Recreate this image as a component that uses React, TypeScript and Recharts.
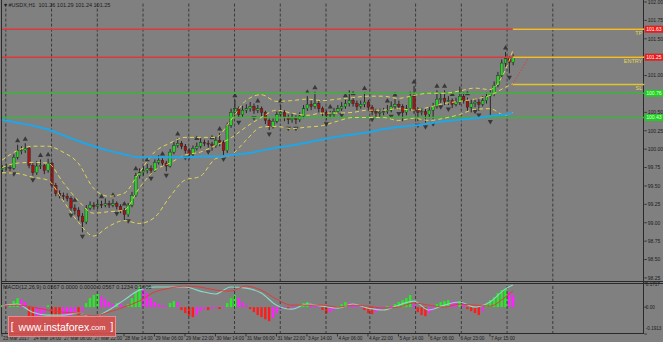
import React from "react";
import { ComposedChart, Bar, Line, Cell, XAxis, YAxis, ReferenceLine } from "recharts";

const W = 663;
const H = 342;
const FONT = "'Liberation Sans', Arial, sans-serif";

// #USDX H1, drawn as 2-hour candles (t = hour index from 23 Mar 22:00)
const firstOpen = 99.72;
const closes = [
  99.74, 99.75, 99.74, 99.89, 99.98, 99.98, 100.01, 99.78, 99.68, 99.77,
  99.78, 99.71, 99.81, 99.51, 99.4, 99.37, 99.36, 99.33, 99.2, 99.17,
  99.09, 99.01, 99.2, 99.24, 99.22, 99.25, 99.24, 99.26, 99.24, 99.26,
  99.22, 99.17, 99.11, 99.24, 99.37, 99.64, 99.68, 99.71, 99.74, 99.71,
  99.82, 99.85, 99.81, 99.77, 99.96, 100.05, 100.08, 100.04, 99.98, 99.93,
  100.01, 100.04, 100.09, 100.08, 100.07, 100.05, 100.12, 100.09, 99.98, 100.32,
  100.5, 100.55, 100.47, 100.53, 100.55, 100.58, 100.53, 100.55, 100.5, 100.39,
  100.31, 100.38, 100.47, 100.5, 100.43, 100.4, 100.42, 100.4, 100.45, 100.55,
  100.61, 100.58, 100.62, 100.55, 100.5, 100.46, 100.47, 100.51, 100.55, 100.58,
  100.62, 100.66, 100.62, 100.58, 100.61, 100.64, 100.57, 100.51, 100.49, 100.5,
  100.51, 100.53, 100.58, 100.61, 100.58, 100.5, 100.55, 100.72, 100.53, 100.5,
  100.51, 100.47, 100.53, 100.58, 100.68, 100.69, 100.65, 100.66, 100.61, 100.64,
  100.72, 100.66, 100.57, 100.62, 100.64, 100.61, 100.66, 100.72, 100.76, 100.87,
  101.0, 101.17, 101.23, 101.18, 101.25,
];
const highs = [
  99.78, 99.8, 99.79, 99.93, 100.06, 100.04, 100.08, 100.03, 99.81, 99.84,
  99.86, 99.8, 99.87, 99.83, 99.54, 99.44, 99.41, 99.4, 99.36, 99.25,
  99.21, 99.13, 99.24, 99.29, 99.28, 99.31, 99.3, 99.33, 99.3, 99.32,
  99.29, 99.25, 99.2, 99.27, 99.42, 99.68, 99.74, 99.77, 99.8, 99.78,
  99.86, 99.92, 99.88, 99.84, 100.0, 100.1, 100.15, 100.11, 100.07, 100.01,
  100.05, 100.09, 100.15, 100.13, 100.12, 100.1, 100.17, 100.22, 100.12, 100.36,
  100.55, 100.67, 100.58, 100.59, 100.61, 100.64, 100.62, 100.6, 100.58, 100.52,
  100.42, 100.42, 100.51, 100.6, 100.53, 100.47, 100.48, 100.46, 100.5, 100.6,
  100.72, 100.66, 100.78, 100.66, 100.58, 100.53, 100.52, 100.56, 100.6, 100.64,
  100.67, 100.8, 100.7, 100.66, 100.66, 100.77, 100.67, 100.6, 100.55, 100.55,
  100.56, 100.6, 100.65, 100.68, 100.66, 100.61, 100.6, 100.78, 100.86, 100.57,
  100.56, 100.55, 100.57, 100.63, 100.8, 100.76, 100.8, 100.72, 100.69, 100.7,
  100.85, 100.77, 100.7, 100.67, 100.69, 100.68, 100.72, 100.77, 100.8, 100.92,
  101.05, 101.22, 101.32, 101.26, 101.29,
];
const lows = [
  99.69, 99.71, 99.7, 99.72, 99.86, 99.93, 99.95, 99.74, 99.64, 99.65,
  99.73, 99.66, 99.68, 99.47, 99.36, 99.33, 99.31, 99.29, 99.16, 99.11,
  99.03, 98.87, 98.98, 99.17, 99.18, 99.19, 99.2, 99.21, 99.2, 99.21,
  99.18, 99.13, 99.03, 99.08, 99.21, 99.35, 99.6, 99.64, 99.67, 99.66,
  99.69, 99.79, 99.77, 99.7, 99.75, 99.93, 100.02, 100.0, 99.94, 99.86,
  99.9, 99.98, 100.01, 100.04, 100.02, 99.98, 100.02, 100.04, 99.92, 99.95,
  100.29, 100.46, 100.42, 100.44, 100.49, 100.51, 100.48, 100.49, 100.45, 100.34,
  100.26, 100.28, 100.35, 100.44, 100.38, 100.34, 100.36, 100.34, 100.37, 100.42,
  100.52, 100.53, 100.55, 100.5, 100.45, 100.4, 100.42, 100.44, 100.48, 100.52,
  100.55, 100.58, 100.58, 100.53, 100.55, 100.57, 100.52, 100.46, 100.42, 100.44,
  100.46, 100.48, 100.5, 100.55, 100.54, 100.38, 100.46, 100.52, 100.48, 100.38,
  100.46, 100.36, 100.42, 100.4, 100.55, 100.63, 100.6, 100.6, 100.56, 100.58,
  100.6, 100.62, 100.52, 100.5, 100.57, 100.52, 100.58, 100.62, 100.43, 100.72,
  100.84, 100.96, 101.12, 101.03, 101.14,
];

// candle numbers carrying a fractal arrow
const fractalUp = [4, 6, 10, 12, 19, 26, 29, 32, 35, 38, 42, 46, 51, 55, 57, 61, 67, 73, 80, 82, 86, 90, 92, 95, 101, 103, 108, 114, 116, 118, 122, 132];
const fractalDown = [3, 8, 18, 21, 30, 33, 39, 43, 48, 54, 58, 62, 66, 70, 75, 77, 85, 89, 97, 102, 104, 109, 111, 113, 115, 117, 124, 125, 128, 133];

// indicators read at every 4th candle
const sampleIdx = [0, 4, 8, 12, 16, 20, 24, 28, 32, 36, 40, 44, 48, 52, 56, 60, 64, 68, 72, 76, 80, 84, 88, 92, 96, 100, 104, 108, 112, 116, 120, 124, 128, 132, 134];
const bbUpper = [99.85, 99.98, 100.04, 100.04, 99.96, 99.81, 99.47, 99.36, 99.4, 99.68, 99.96, 100.08, 100.16, 100.16, 100.16, 100.39, 100.66, 100.74, 100.65, 100.66, 100.68, 100.66, 100.68, 100.7, 100.72, 100.72, 100.69, 100.73, 100.76, 100.76, 100.79, 100.83, 100.81, 101.07, 101.34];
const bbMiddle = [99.75, 99.81, 99.82, 99.81, 99.55, 99.3, 99.13, 99.15, 99.17, 99.47, 99.71, 99.81, 99.92, 99.96, 100.05, 100.15, 100.3, 100.43, 100.53, 100.49, 100.46, 100.49, 100.49, 100.5, 100.53, 100.53, 100.55, 100.53, 100.57, 100.62, 100.65, 100.68, 100.73, 100.84, 100.89];
const bbLower = [99.68, 99.67, 99.62, 99.58, 99.3, 99.01, 98.82, 98.95, 99.03, 98.99, 99.07, 99.35, 99.58, 99.63, 99.87, 99.92, 100.12, 100.3, 100.31, 100.28, 100.3, 100.32, 100.38, 100.43, 100.43, 100.43, 100.39, 100.42, 100.39, 100.42, 100.47, 100.54, 100.55, 100.46, 100.5];
const ma200 = [100.4, 100.36, 100.32, 100.27, 100.19, 100.11, 100.04, 99.98, 99.93, 99.89, 99.89, 99.89, 99.89, 99.9, 99.9, 99.92, 99.94, 99.98, 100.02, 100.05, 100.09, 100.13, 100.17, 100.2, 100.23, 100.27, 100.3, 100.32, 100.35, 100.38, 100.4, 100.42, 100.45, 100.47, 100.49];
const macdFast = [0.007, 0.021, -0.036, -0.057, -0.057, -0.043, -0.071, -0.021, 0.05, 0.121, 0.143, 0.143, 0.143, 0.114, 0.093, 0.143, 0.135, 0.1, 0.014, -0.014, 0.021, 0.007, -0.007, 0.021, -0.007, -0.021, 0.014, 0.043, -0.021, 0.014, 0.036, 0, 0.036, 0.128, 0.157];
const macdSlow = [0.007, 0.014, 0, -0.021, -0.036, -0.043, -0.064, -0.036, 0, 0.043, 0.107, 0.135, 0.15, 0.143, 0.121, 0.114, 0.15, 0.121, 0.057, 0.014, 0.014, 0.014, 0, 0.014, 0.007, -0.007, 0, 0.029, 0.014, 0, 0.021, 0.014, 0.007, 0.071, 0.114];

const macdHist = [
  0.014, 0.014, 0.021, 0.043, 0.064, 0.057, 0.036, -0.086, -0.143, -0.107,
  -0.078, -0.043, 0.014, -0.071, -0.128, -0.157, -0.143, -0.114, -0.071, -0.036,
  -0.057, -0.029, 0.029, 0.064, 0.086, 0.093, 0.078, 0.057, 0.036, 0.021,
  0.029, 0.021, 0.007, 0.021, 0.064, 0.107, 0.143, 0.135, 0.1, 0.064,
  0.036, 0.021, 0.014, 0.007, 0.029, 0.043, 0.036, -0.021, -0.043, -0.064,
  -0.071, -0.057, -0.029, -0.014, -0.021, -0.014, -0.007, -0.014, -0.007, 0.029,
  0.064, 0.086, 0.064, 0.036, 0.014, -0.014, -0.036, -0.057, -0.071, -0.086,
  -0.1, -0.078, -0.043, -0.014, -0.007, -0.014, -0.014, -0.007, 0.014, 0.029,
  0.036, 0.021, 0.014, 0.007, -0.021, -0.043, -0.036, -0.021, 0.007, 0.021,
  0.036, 0.029, 0.021, 0.007, 0.007, -0.021, -0.043, -0.05, -0.036, -0.021,
  -0.007, 0.007, 0.007, 0.021, 0.036, 0.05, 0.064, 0.086, 0.021, -0.036,
  -0.057, -0.064, -0.043, -0.021, 0.021, 0.036, 0.043, 0.05, 0.043, 0.036,
  0.043, 0.029, -0.014, -0.029, -0.043, -0.057, -0.029, 0.021, 0.05, 0.071,
  0.1, 0.121, 0.128, 0.107, 0.086,
];

const priceTicks = [98.25, 98.5, 98.75, 99.0, 99.25, 99.5, 99.75, 100.0, 100.25, 100.5, 101.0, 101.5, 101.75, 102.0];
const redLevels = [101.63, 101.25];
const greenLevels = [100.76, 100.43];
const tradeLevels = [
  { name: "TP", value: 101.63 },
  { name: "ENTRY", value: 101.25 },
  { name: "SL", value: 100.88 },
];
const macdTicks = [0.1717, 0, -0.1913];
const dayLines = [2, 26, 50, 74, 98, 122, 146, 170, 193, 217, 241, 265, 289];
const timeTicks = [0, 16, 32, 48, 64, 80, 96, 112, 128, 144, 160, 176, 192, 208, 224, 240, 256];
const timeLabels = ["23 Mar 2017", "24 Mar 14:00", "27 Mar 06:00", "27 Mar 22:00", "28 Mar 14:00", "29 Mar 06:00", "29 Mar 22:00", "30 Mar 14:00", "31 Mar 06:00", "31 Mar 22:00", "3 Apr 14:00", "4 Apr 06:00", "4 Apr 22:00", "5 Apr 14:00", "6 Apr 06:00", "6 Apr 23:00", "7 Apr 15:00"];

const rows = closes.map((c, i) => {
  const row: any = {
    t: i * 2,
    o: i === 0 ? firstOpen : closes[i - 1],
    c,
    h: highs[i],
    l: lows[i],
    hl: [lows[i], highs[i]],
    hist: macdHist[i],
    fu: fractalUp.includes(i),
    fd: fractalDown.includes(i),
  };
  const k = sampleIdx.indexOf(i);
  if (k >= 0) {
    row.upper = bbUpper[k];
    row.middle = bbMiddle[k];
    row.lower = bbLower[k];
    row.ma = ma200[k];
    row.fast = macdFast[k];
    row.slow = macdSlow[k];
  }
  return row;
});

const histColor = (i: number) => {
  const v = macdHist[i];
  const prev = i > 0 ? macdHist[i - 1] : 0;
  if (v >= 0) return v > prev ? "#22ee22" : "#ff22ff";
  return v < prev ? "#ff1c1c" : "#ff22ff";
};

const Candle = (props: any) => {
  const { x, y, width, height, payload } = props;
  if (!payload || height == null) return null;
  const { o, c, h, l, fu, fd } = payload;
  const k = height / (h - l || 1);
  const cx = x + width / 2;
  const top = y + (h - Math.max(o, c)) * k;
  const bot = y + (h - Math.min(o, c)) * k;
  const bull = c >= o;
  return (
    <g>
      <line x1={cx} x2={cx} y1={y} y2={y + height} stroke="#1b1b1b" strokeWidth={0.9} />
      <rect x={x} y={top} width={width} height={Math.max(bot - top, 0.9)} fill={bull ? "#27d327" : "#a51414"} stroke="#1b1b1b" strokeWidth={0.35} />
      {fu && <path d={`M${cx - 2.6},${y - 2.5} L${cx + 2.6},${y - 2.5} L${cx},${y - 7} Z`} fill="#2c2c2c" opacity={0.85} />}
      {fd && <path d={`M${cx - 2.6},${y + height + 2.5} L${cx + 2.6},${y + height + 2.5} L${cx},${y + height + 7} Z`} fill="#2c2c2c" opacity={0.85} />}
    </g>
  );
};

const PriceTick = (props: any) => {
  const { x, y, payload } = props;
  const v = payload.value;
  const red = redLevels.includes(v);
  const green = greenLevels.includes(v);
  if (red || green) {
    return (
      <g>
        <rect x={x + 0.5} y={y - 3.5} width={18.5} height={7} fill={red ? "#e81c1c" : "#1fcf1f"} />
        <text x={x + 2} y={y + 1.8} fontSize={5} fontFamily={FONT} fill={red ? "#ffffff" : "#e8ffe8"}>{v.toFixed(2)}</text>
      </g>
    );
  }
  return (
    <g>
      <line x1={x} x2={x + 2.5} y1={y} y2={y} stroke="#222" strokeWidth={0.8} />
      <text x={x + 3.5} y={y + 1.8} fontSize={5} fontFamily={FONT} fill="#1c1c1c">{v.toFixed(2)}</text>
    </g>
  );
};

const MacdTick = (props: any) => {
  const { x, y, payload } = props;
  const v = payload.value;
  const dy = v > 0 ? 3.2 : v < 0 ? -4.2 : 1.8;
  const label = v === 0 ? "0.00" : String(v);
  return (
    <g>
      <line x1={x} x2={x + 2.5} y1={y} y2={y} stroke="#222" strokeWidth={0.8} />
      <text x={x + 1.5} y={y + dy} fontSize={4.6} fontFamily={FONT} fill="#1c1c1c">{label}</text>
    </g>
  );
};

const TimeTick = (props: any) => {
  const { x, y, index } = props;
  return (
    <g>
      <line x1={x} x2={x} y1={y} y2={y + 2.5} stroke="#222" strokeWidth={0.8} />
      <text x={x + 1} y={y + 5.8} fontSize={4.7} fontFamily={FONT} fill="#1c1c1c">{timeLabels[index] ?? ""}</text>
    </g>
  );
};

const dayGrid = dayLines.map((t) => (
  <ReferenceLine key={"d" + t} x={t} stroke="#2a2a2a" strokeWidth={0.8} strokeDasharray="3 2" />
));

export default function App() {
  return (
    <div style={{ position: "fixed", left: 0, top: 0, width: W, height: H, background: "#808080", overflow: "hidden", fontFamily: FONT }}>
      <div style={{ position: "absolute", left: 1, top: 0, width: 643, height: 334, borderLeft: "1px solid #2a2a2a", borderRight: "1px solid #2a2a2a", borderBottom: "1px solid #2a2a2a", boxSizing: "border-box" }} />
      <div style={{ position: "absolute", left: 1, top: 281, width: 662, height: 0, borderTop: "1px solid #2a2a2a" }} />
      <div style={{ position: "absolute", left: 1, top: 283, width: 662, height: 0, borderTop: "1px solid #2a2a2a" }} />

      <div style={{ position: "absolute", left: 0, top: 0 }}>
        <ComposedChart width={W} height={283} data={rows} margin={{ top: 2, right: 0, bottom: 1.4, left: 2 }}>
          <XAxis dataKey="t" type="number" domain={[0, 337]} hide />
          <YAxis orientation="right" domain={[98.2, 102]} ticks={[...priceTicks, ...greenLevels, ...redLevels]} interval={0} width={18.7} tick={<PriceTick />} tickLine={false} axisLine={false} tickSize={0} tickMargin={0} allowDataOverflow />
          {dayGrid}
          {redLevels.map((v) => (
            <ReferenceLine key={"r" + v} y={v} stroke="#e03838" strokeWidth={1.6} />
          ))}
          {greenLevels.map((v) => (
            <ReferenceLine key={"g" + v} y={v} stroke="#3cb43c" strokeWidth={1.4} />
          ))}
          {tradeLevels.map((lv) => (
            <ReferenceLine
              key={"t" + lv.name}
              segment={[{ x: 268, y: lv.value }, { x: 337, y: lv.value }]}
              stroke="#e2c42e"
              strokeWidth={1.5}
              label={{ value: lv.name, position: "insideTopRight", fill: "#e6d84a", fontSize: 5.5, fontFamily: FONT, offset: 2 }}
            />
          ))}
          <ReferenceLine segment={[{ x: 268, y: 100.89 }, { x: 276, y: 101.23 }]} stroke="#e03838" strokeWidth={0.9} strokeDasharray="1.5 1.5" />
          <Line dataKey="upper" type="monotone" stroke="#e2d650" strokeWidth={1} strokeDasharray="4 3" dot={false} connectNulls isAnimationActive={false} />
          <Line dataKey="middle" type="monotone" stroke="#e2d650" strokeWidth={1} strokeDasharray="4 3" dot={false} connectNulls isAnimationActive={false} />
          <Line dataKey="lower" type="monotone" stroke="#e2d650" strokeWidth={1} strokeDasharray="4 3" dot={false} connectNulls isAnimationActive={false} />
          <Line dataKey="ma" type="monotone" stroke="#1ea6ea" strokeWidth={2} dot={false} connectNulls isAnimationActive={false} />
          <Bar dataKey="hl" barSize={2.6} shape={<Candle />} isAnimationActive={false} />
        </ComposedChart>
      </div>

      <div style={{ position: "absolute", left: 0, top: 281 }}>
        <ComposedChart width={W} height={61} data={rows} margin={{ top: 2, right: 0, bottom: 0, left: 2 }}>
          <XAxis dataKey="t" type="number" domain={[0, 337]} ticks={timeTicks} interval={0} height={8} tick={<TimeTick />} tickLine={false} axisLine={false} tickSize={0} tickMargin={0} />
          <YAxis orientation="right" domain={[-0.1913, 0.1717]} ticks={macdTicks} interval={0} width={18.7} tick={<MacdTick />} tickLine={false} axisLine={false} tickSize={0} tickMargin={0} allowDataOverflow />
          {dayGrid}
          <Bar dataKey="hist" barSize={2.4} isAnimationActive={false}>
            {rows.map((r, i) => (
              <Cell key={i} fill={histColor(i)} />
            ))}
          </Bar>
          <Line dataKey="fast" type="monotone" stroke="#86dcc6" strokeWidth={1.1} dot={false} connectNulls isAnimationActive={false} />
          <Line dataKey="slow" type="monotone" stroke="#e23a3a" strokeWidth={1} dot={false} connectNulls isAnimationActive={false} />
        </ComposedChart>
      </div>

      <div style={{ position: "absolute", left: 4, top: 2, fontSize: 5.5, color: "#1c1c1c", whiteSpace: "nowrap", lineHeight: "7px" }}>
        ▾ #USDX,H1&nbsp; 101.26 101.29 101.24 101.25
      </div>
      <div style={{ position: "absolute", left: 3, top: 284, fontSize: 5.5, color: "#1c1c1c", whiteSpace: "nowrap", lineHeight: "7px" }}>
        MACD(12,26,9) 0.0567 0.0000 0.0000 0.0567 0.1234 0.1606
      </div>
      <div style={{ position: "absolute", left: 8, top: 316, width: 108, height: 21, background: "rgba(214,78,78,0.9)", border: "1px solid rgba(255,200,200,0.5)", boxSizing: "border-box", color: "#ffffff", display: "flex", alignItems: "center", justifyContent: "center", whiteSpace: "nowrap" }}>
        <span style={{ fontSize: 10, marginRight: 5 }}>[</span>
        <span style={{ fontSize: 10.5 }}>www.instaforex</span>
        <span style={{ fontSize: 7.5, marginTop: 2 }}>.com</span>
        <span style={{ fontSize: 10, marginLeft: 5 }}>]</span>
      </div>
    </div>
  );
}
